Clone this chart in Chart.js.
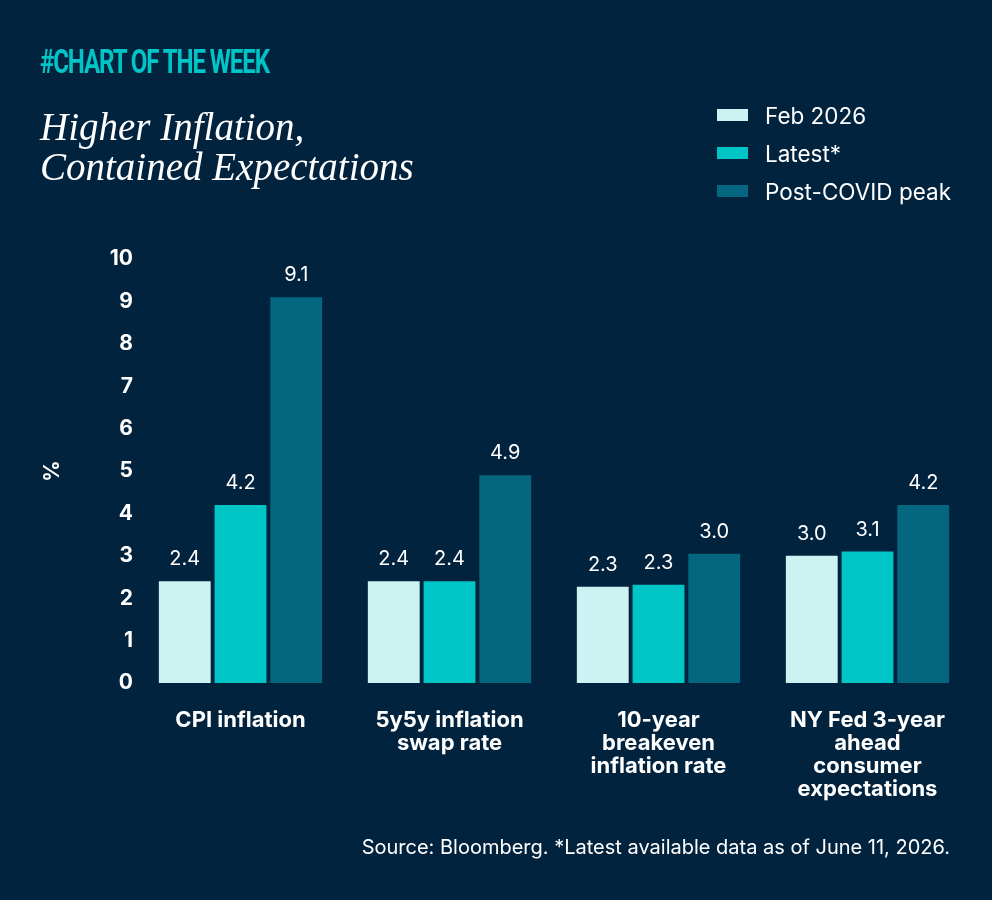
<!DOCTYPE html>
<html>
<head>
<meta charset="utf-8">
<script src="https://cdn.jsdelivr.net/npm/chart.js@4/dist/chart.umd.min.js"></script>
<style>
  html, body { margin: 0; padding: 0; background: #02233e; }
  #wrap { position: relative; width: 992px; height: 900px; background: #02233e; overflow: hidden; }
  #c { position: absolute; left: 0; top: 0; }
  .tag { position: absolute; left: 40px; top: 42px; color: #00c4c6; font-family: Roboto, sans-serif; font-weight: 700; font-size: 33px; letter-spacing: -1.5px; transform: scaleX(0.73); transform-origin: left top; white-space: nowrap; line-height: 40px; }
  .title { position: absolute; left: 40px; top: 107px; color: #ffffff; font-family: "Liberation Serif", serif; font-style: italic; font-size: 39px; line-height: 40px; white-space: nowrap; }
  .legend { position: absolute; left: 717px; top: 96px; color: #ffffff; font-family: Inter, sans-serif; font-size: 22.5px; }
  .legend .row { display: flex; align-items: center; height: 38px; }
  .legend .sw { width: 31px; height: 12px; margin-right: 17px; }
  .source { position: absolute; right: 42px; top: 835px; color: #ffffff; font-family: Inter, sans-serif; font-size: 20px; white-space: nowrap; }
</style>
</head>
<body>
<div id="wrap">
  <canvas id="c" width="992" height="900"></canvas>
  <div class="tag">#CHART OF THE WEEK</div>
  <div class="title">Higher Inflation,<br>Contained Expectations</div>
  <div class="legend" id="legend"></div>
  <div class="source">Source: Bloomberg. *Latest available data as of June 11, 2026.</div>
</div>
<script>
const categories = [
  ["CPI inflation"],
  ["5y5y inflation", "swap rate"],
  ["10-year", "breakeven", "inflation rate"],
  ["NY Fed 3-year", "ahead", "consumer", "expectations"]
];
const seriesNames = ["Feb 2026", "Latest*", "Post-COVID peak"];
const feb2026 = [2.4, 2.4, 2.27, 3.0];
const latest = [4.2, 2.4, 2.32, 3.1];
const postCovidPeak = [9.1, 4.9, 3.05, 4.2];
const yTicks = [0, 1, 2, 3, 4, 5, 6, 7, 8, 9, 10];
const seriesColors = ["#cdf2f2", "#00c5c7", "#05677f"];

const legendEl = document.getElementById('legend');
seriesNames.forEach((n, i) => {
  const r = document.createElement('div'); r.className = 'row';
  r.innerHTML = '<div class="sw" style="background:' + seriesColors[i] + '"></div><span>' + n + '</span>';
  legendEl.appendChild(r);
});

const valueLabels = {
  id: 'valueLabels',
  afterDatasetsDraw(chart) {
    const ctx = chart.ctx;
    ctx.save();
    ctx.fillStyle = '#ffffff';
    ctx.font = '20px Inter, sans-serif';
    ctx.textAlign = 'center';
    ctx.textBaseline = 'middle';
    chart.data.datasets.forEach((ds, di) => {
      chart.getDatasetMeta(di).data.forEach((bar, i) => {
        ctx.fillText(ds.data[i].toFixed(1), bar.x, bar.y - 22);
      });
    });
    ctx.restore();
  }
};

new Chart(document.getElementById('c'), {
  type: 'bar',
  data: {
    labels: categories,
    datasets: [
      { label: seriesNames[0], data: feb2026, backgroundColor: seriesColors[0] },
      { label: seriesNames[1], data: latest, backgroundColor: seriesColors[1] },
      { label: seriesNames[2], data: postCovidPeak, backgroundColor: seriesColors[2] }
    ]
  },
  options: {
    responsive: false,
    animation: false,
    devicePixelRatio: 1,
    layout: { padding: { top: 259, right: 20, bottom: 0, left: 0 } },
    datasets: { bar: { categoryPercentage: 0.8, barPercentage: 0.93 } },
    plugins: { legend: { display: false }, tooltip: { enabled: false } },
    scales: {
      x: {
        grid: { display: false, drawTicks: false },
        border: { display: false },
        ticks: { color: '#ffffff', font: { family: 'Inter, sans-serif', weight: 'bold', size: 22, lineHeight: '23px' }, padding: 26, maxRotation: 0, autoSkip: false },
        afterFit(s) { s.height = 217; }
      },
      y: {
        min: 0, max: 10,
        afterBuildTicks(s) { s.ticks = yTicks.map(v => ({ value: v })); },
        grid: { display: false, drawTicks: false },
        border: { display: false },
        ticks: { color: '#ffffff', font: { family: 'Inter, sans-serif', weight: 'bold', size: 21 }, padding: 3 },
        title: { display: true, text: '%', color: '#ffffff', font: { family: 'Inter, sans-serif', weight: 'bold', size: 21 }, padding: { top: 40, bottom: 0 } },
        afterFit(s) { s.width = 136; }
      }
    }
  },
  plugins: [valueLabels]
});
</script>
</body>
</html>
